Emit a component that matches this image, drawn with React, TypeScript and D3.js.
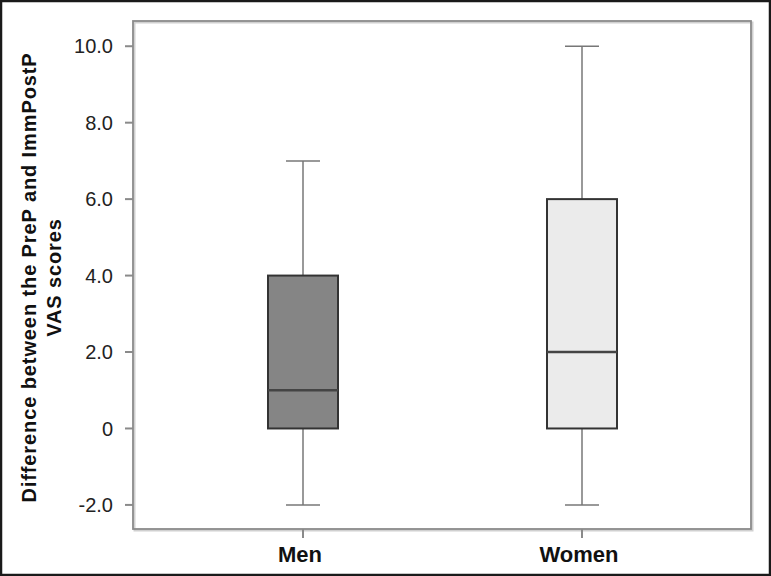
import React from "react";
import * as d3 from "d3";

const categories = ["Men", "Women"];
const whiskerLow = [-2, -2];
const q1 = [0, 0];
const medians = [1, 2];
const q3 = [4, 6];
const whiskerHigh = [7, 10];
const boxFills = ["#858585", "#ebebeb"];
const yTicks = [-2, 0, 2, 4, 6, 8, 10];
const yTickLabels = ["-2.0", "0", "2.0", "4.0", "6.0", "8.0", "10.0"];
const yTitleLines = ["Difference between the PreP and ImmPostP", "VAS scores"];

const W = 771;
const H = 576;
const left = 133;
const right = 751;
const top = 21;
const bottom = 529;

export default function App() {
  const y = d3.scaleLinear().domain([-2.63, 10.66]).range([bottom, top]);
  const x = d3.scalePoint<string>().domain(categories).range([303, 582]);
  const boxW = 70;
  const capW = 34;
  const sans = "'Liberation Sans', Arial, sans-serif";

  return (
    <svg width={W} height={H} style={{ position: "absolute", left: 0, top: 0 }}>
      <rect x={0} y={0} width={W} height={H} fill="#fff" />
      <rect x={1} y={1} width={W - 2} height={H - 2} fill="none" stroke="#1a1a1a" strokeWidth={2.5} />
      {/* frame shadow */}
      <rect x={left + 1.5} y={top + 1.5} width={right - left} height={bottom - top} fill="none" stroke="#d0d0d0" strokeWidth={2} />
      <rect x={left} y={top} width={right - left} height={bottom - top} fill="none" stroke="#8a8a8a" strokeWidth={1.8} />
      {/* y ticks */}
      {yTicks.map((t, i) => (
        <g key={t}>
          <line x1={left - 8} x2={left} y1={y(t)} y2={y(t)} stroke="#8a8a8a" strokeWidth={2} />
          <text x={113} y={y(t)} dy="0.36em" textAnchor="end" fontFamily={sans} fontSize={20} fill="#222">
            {yTickLabels[i]}
          </text>
        </g>
      ))}
      {/* x ticks */}
      {categories.map((c) => (
        <g key={c}>
          <line x1={x(c)} x2={x(c)} y1={bottom} y2={bottom + 9} stroke="#8a8a8a" strokeWidth={2} />
          <text x={x(c)! - 3} y={562} textAnchor="middle" fontFamily={sans} fontWeight="bold" fontSize={22} fill="#111">
            {c}
          </text>
        </g>
      ))}
      {/* y title */}
      <text transform={`translate(36,277.5) rotate(-90)`} textAnchor="middle" fontFamily={sans} fontWeight="bold" fontSize={20} letterSpacing={0.9} fill="#111">
        <tspan x={0} dy={0}>{yTitleLines[0]}</tspan>
        <tspan x={0} dy={25}>{yTitleLines[1]}</tspan>
      </text>
      {/* boxes */}
      {categories.map((c, i) => {
        const cx = x(c)!;
        return (
          <g key={c}>
            <line x1={cx} x2={cx} y1={y(whiskerHigh[i])} y2={y(q3[i])} stroke="#777" strokeWidth={1.5} />
            <line x1={cx} x2={cx} y1={y(q1[i])} y2={y(whiskerLow[i])} stroke="#777" strokeWidth={1.5} />
            <line x1={cx - capW / 2} x2={cx + capW / 2} y1={y(whiskerHigh[i])} y2={y(whiskerHigh[i])} stroke="#777" strokeWidth={1.5} />
            <line x1={cx - capW / 2} x2={cx + capW / 2} y1={y(whiskerLow[i])} y2={y(whiskerLow[i])} stroke="#777" strokeWidth={1.5} />
            <rect x={cx - boxW / 2} y={y(q3[i])} width={boxW} height={y(q1[i]) - y(q3[i])} fill={boxFills[i]} stroke="#333" strokeWidth={2} />
            <line x1={cx - boxW / 2} x2={cx + boxW / 2} y1={y(medians[i])} y2={y(medians[i])} stroke="#444" strokeWidth={2.5} />
          </g>
        );
      })}
    </svg>
  );
}
